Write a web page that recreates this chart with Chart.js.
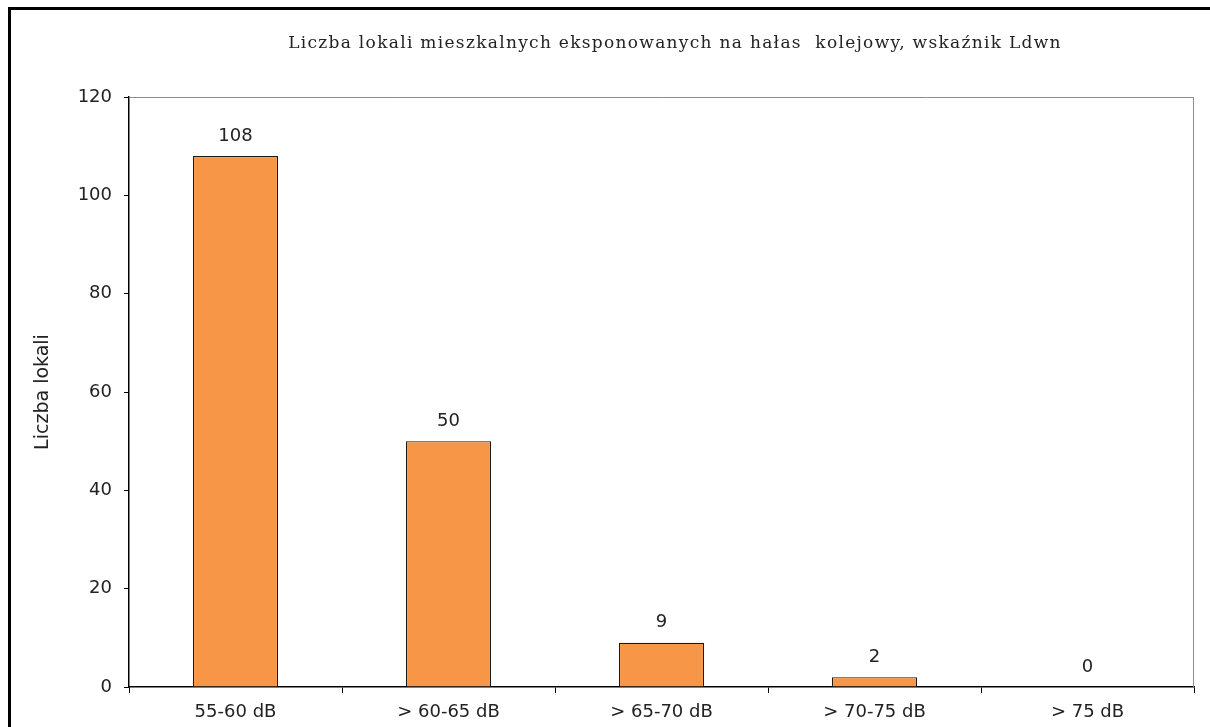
<!DOCTYPE html>
<html>
<head>
<meta charset="utf-8">
<script src="https://cdn.jsdelivr.net/npm/chart.js@4/dist/chart.umd.min.js"></script>
<style>
  html, body { margin: 0; padding: 0; background: #fff; }
  #wrap { width: 1210px; height: 727px; position: relative; }
</style>
</head>
<body>
<div id="wrap"><canvas id="chart" width="1210" height="727"></canvas></div>
<script>
const categories = ['55-60 dB', '> 60-65 dB', '> 65-70 dB', '> 70-75 dB', '> 75 dB'];
const values = [108, 50, 9, 2, 0];
const yTicks = [0, 20, 40, 60, 80, 100, 120];
const chartTitle = 'Liczba lokali mieszkalnych eksponowanych na hałas  kolejowy, wskaźnik Ldwn';
const yTitle = 'Liczba lokali';

// frame, title, plot border and value labels
const decor = {
  id: 'decor',
  beforeDraw(chart) {
    const c = chart.ctx;
    c.save();
    c.fillStyle = '#fff';
    c.fillRect(0, 0, chart.width, chart.height);
    c.strokeStyle = '#000';
    c.lineWidth = 3;
    c.strokeRect(9.5, 8.5, chart.width + 20, chart.height + 20);
    c.fillStyle = '#222';
    c.font = '17px "DejaVu Serif"';
    c.letterSpacing = '1.3px';
    c.textAlign = 'center';
    c.textBaseline = 'middle';
    c.fillText(chartTitle, 675, 44);
    c.restore();
  },
  beforeDatasetsDraw(chart) {
    const a = chart.chartArea;
    const c = chart.ctx;
    c.save();
    c.strokeStyle = '#8c8c8c';
    c.lineWidth = 1;
    c.beginPath();
    c.moveTo(a.left, a.top + 0.5);
    c.lineTo(a.right - 0.5, a.top + 0.5);
    c.lineTo(a.right - 0.5, a.bottom);
    c.stroke();
    c.restore();
  },
  afterDatasetsDraw(chart) {
    const c = chart.ctx;
    const meta = chart.getDatasetMeta(0);
    c.save();
    c.fillStyle = '#222';
    c.font = '18px "DejaVu Sans"';
    c.textAlign = 'center';
    c.textBaseline = 'bottom';
    meta.data.forEach((bar, i) => {
      c.fillText(String(values[i]), bar.x, bar.y - 11);
    });
    c.restore();
  }
};

new Chart(document.getElementById('chart').getContext('2d'), {
  type: 'bar',
  data: {
    labels: categories,
    datasets: [{
      data: values,
      backgroundColor: '#F79646',
      borderColor: '#1a1a1a',
      borderWidth: 1.2,
      barPercentage: 0.4,
      categoryPercentage: 1
    }]
  },
  options: {
    responsive: false,
    animation: false,
    layout: { padding: { left: 0, right: 16, top: 97, bottom: 0 } },
    plugins: {
      legend: { display: false },
      title: { display: false },
      tooltip: { enabled: false }
    },
    scales: {
      x: {
        offset: true,
        grid: { offset: true, drawOnChartArea: false, color: '#000', tickLength: 6 },
        border: { color: '#000', width: 1.5 },
        ticks: { color: '#222', font: { family: 'DejaVu Sans', size: 18 }, padding: 9 },
        afterFit(scale) { scale.height = 40; }
      },
      y: {
        min: 0,
        max: 120,
        afterBuildTicks(scale) { scale.ticks = yTicks.map(v => ({ value: v })); },
        grid: { drawOnChartArea: false, color: '#000', tickLength: 5 },
        border: { color: '#000', width: 1.5 },
        ticks: { color: '#222', font: { family: 'DejaVu Sans', size: 18 }, padding: 12 },
        title: {
          display: true,
          text: yTitle,
          color: '#222',
          font: { family: 'DejaVu Sans', size: 19 },
          padding: { top: 32, bottom: 0 }
        },
        afterFit(scale) { scale.width = 129; }
      }
    }
  },
  plugins: [decor]
});
</script>
</body>
</html>
